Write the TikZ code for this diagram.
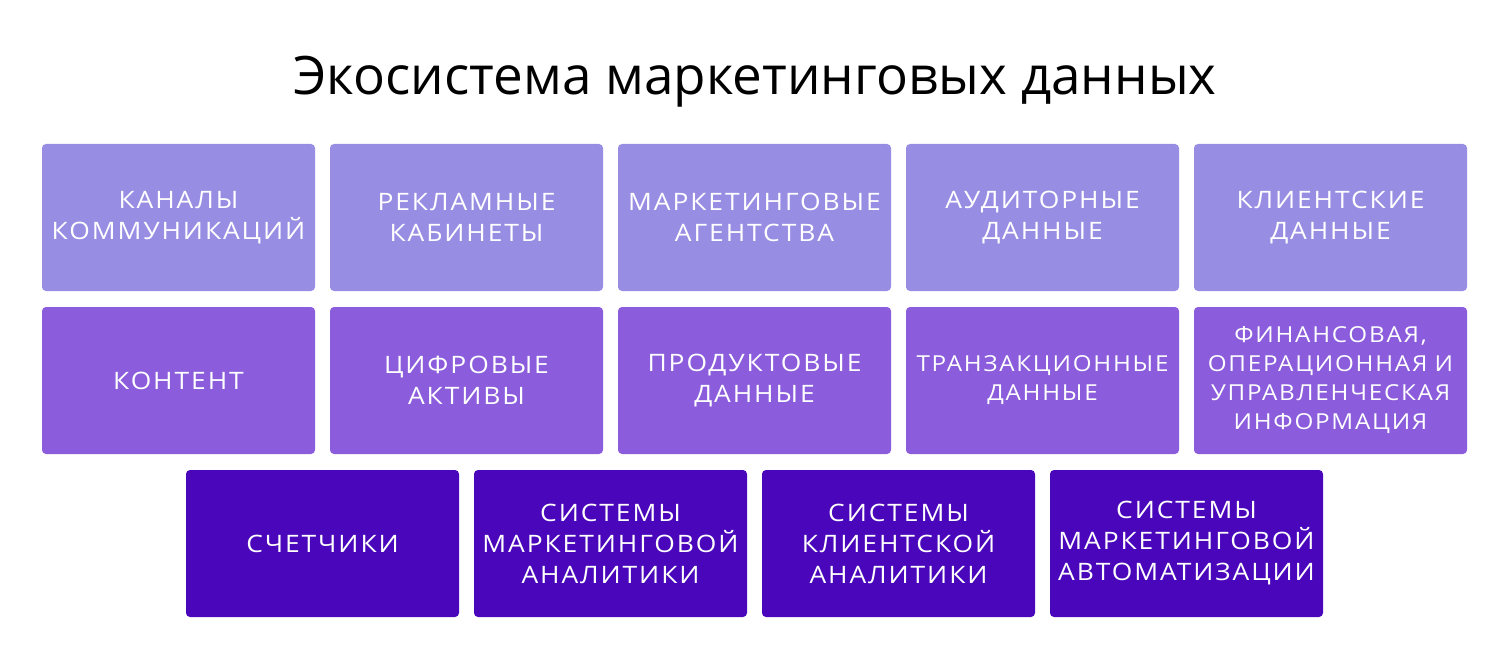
\documentclass[tikz,border=0pt]{standalone}
\usepackage{fontspec}
\setmainfont{Open Sans}
\newfontfamily\boxfont{Open Sans}[FakeStretch=1.1, LetterSpace=8]
\definecolor{rowone}{RGB}{151,141,227}
\definecolor{rowtwo}{RGB}{139,92,219}
\definecolor{rowthree}{RGB}{74,6,186}
\begin{document}
\begin{tikzpicture}[x=1pt, y=-1pt,
  box/.style={rounded corners=4pt, minimum width=273pt, minimum height=147pt, inner sep=0pt,
    text width=270pt, align=center, text=white, font=\boxfont\fontsize{24}{31}\selectfont},
  tight/.style={font=\boxfont\fontsize{22}{29}\selectfont},
  rowA/.style={box, fill=rowone},
  rowB/.style={box, fill=rowtwo},
  rowC/.style={box, fill=rowthree}]

  \newcommand\X{288};
  \useasboundingbox (0,0) rectangle (1510,655);

  \node[anchor=base] (title) at (755, 95) {\fontsize{53}{60}\selectfont Экосистема маркетинговых данных};

  %% top row
  \node[rowA] (kanaly) at (178.5+0*\X, 217.5) {КАНАЛЫ\\КОММУНИКАЦИЙ};
  \node[rowA] (kabinety) at (178.5+1*\X, 217.5) {РЕКЛАМНЫЕ\\КАБИНЕТЫ};
  \node[rowA] (agentstva) at (178.5+2*\X, 217.5) {МАРКЕТИНГОВЫЕ\\АГЕНТСТВА};
  \node[rowA] (auditor) at (178.5+3*\X, 217.5) {АУДИТОРНЫЕ\\ДАННЫЕ};
  \node[rowA] (klient) at (178.5+4*\X, 217.5) {КЛИЕНТСКИЕ\\ДАННЫЕ};

  %% middle row
  \node[rowB] (kontent) at (178.5+0*\X, 380.5) {КОНТЕНТ};
  \node[rowB] (aktivy) at (178.5+1*\X, 380.5) {ЦИФРОВЫЕ\\АКТИВЫ};
  \node[rowB] (produkt) at (178.5+2*\X, 380.5) {ПРОДУКТОВЫЕ\\ДАННЫЕ};
  \node[rowB, tight] (tranz) at (178.5+3*\X, 380.5) {ТРАНЗАКЦИОННЫЕ\\ДАННЫЕ};
  \node[rowB, tight] (finans) at (178.5+4*\X, 380.5) {ФИНАНСОВАЯ,\\ОПЕРАЦИОННАЯ И\\УПРАВЛЕНЧЕСКАЯ\\ИНФОРМАЦИЯ};

  %% bottom row
  \node[rowC] (schetchiki) at (322.5+0*\X, 543.5) {СЧЕТЧИКИ};
  \node[rowC] (analitika) at (322.5+1*\X, 543.5) {СИСТЕМЫ\\МАРКЕТИНГОВОЙ\\АНАЛИТИКИ};
  \node[rowC] (klanalitika) at (322.5+2*\X, 543.5) {СИСТЕМЫ\\КЛИЕНТСКОЙ\\АНАЛИТИКИ};
  \node[rowC] (avtomat) at (322.5+3*\X, 543.5) {СИСТЕМЫ\\МАРКЕТИНГОВОЙ\\АВТОМАТИЗАЦИИ};
\end{tikzpicture}
\end{document}
